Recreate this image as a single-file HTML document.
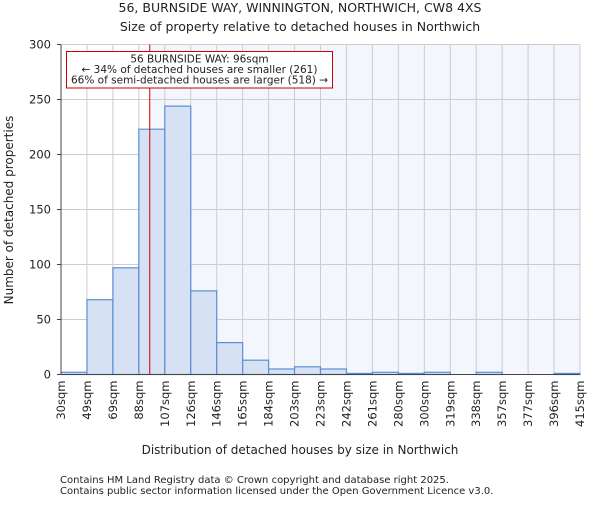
<!DOCTYPE html>
<html><head><meta charset="utf-8"><style>
body{margin:0;background:#fff;font-family:"Liberation Sans","DejaVu Sans",sans-serif;}
svg text{font-family:"DejaVu Sans","Liberation Sans",sans-serif;fill:#222;}
</style></head><body>
<svg id="c" width="600" height="500" xmlns="http://www.w3.org/2000/svg">
<text x="300" y="12" text-anchor="middle" font-size="12.5">56, BURNSIDE WAY, WINNINGTON, NORTHWICH, CW8 4XS</text>
<text x="300" y="31" text-anchor="middle" font-size="12.5">Size of property relative to detached houses in Northwich</text>
<g id="plot"></g>
<text x="300" y="454" text-anchor="middle" font-size="12">Distribution of detached houses by size in Northwich</text>
<text transform="translate(13,210) rotate(-90)" text-anchor="middle" font-size="12">Number of detached properties</text>
<text x="60" y="483" font-size="10" fill="#444">Contains HM Land Registry data © Crown copyright and database right 2025.</text>
<text x="60" y="494" font-size="10" fill="#444">Contains public sector information licensed under the Open Government Licence v3.0.</text>
</svg>
<script>
const binLabels=["30sqm","49sqm","69sqm","88sqm","107sqm","126sqm","146sqm","165sqm","184sqm","203sqm","223sqm","242sqm","261sqm","280sqm","300sqm","319sqm","338sqm","357sqm","377sqm","396sqm","415sqm"];
const counts=[2,68,97,223,244,76,29,13,5,7,5,1,2,1,2,0,2,0,0,1];
const yTicks=[0,50,100,150,200,250,300];
const markerBin=3.42;
const NS="http://www.w3.org/2000/svg";
const L=61,R=580,T=44.5,B=374.5,yMax=300;
const bw=(R-L)/counts.length;
const xs=i=>L+i*bw, ys=v=>B-(v/yMax)*(B-T);
const g=document.getElementById('plot');
function mk(t,a){const e=document.createElementNS(NS,t);for(const k in a)e.setAttribute(k,a[k]);g.appendChild(e);return e;}
const mx=xs(markerBin);
let e=mk('rect',{x:mx,y:T,width:R-mx,height:B-T,fill:'#f3f6fd'});


for(let i=0;i<binLabels.length;i++){
 e=mk('line',{x1:xs(i),x2:xs(i),y1:T,y2:B,stroke:'#cccccc','stroke-width':1});
 
 
 const tx=xs(i)+4;
 e=mk('text',{transform:`translate(${tx},${B+6}) rotate(-90)`,'text-anchor':'end','font-size':11.5});
 e.textContent=binLabels[i];
 
 
}
yTicks.forEach(v=>{
 e=mk('line',{x1:L,x2:R,y1:ys(v),y2:ys(v),stroke:'#cccccc','stroke-width':1});
 
 
 e=mk('line',{x1:L-4,x2:L,y1:ys(v),y2:ys(v),stroke:'#444'});
 
 
 e=mk('text',{x:L-10,y:ys(v)+4,'text-anchor':'end','font-size':11.5});
 e.textContent=v;
 
 
});
counts.forEach((c,i)=>{
 e=mk('rect',{x:xs(i),y:ys(c),width:bw,height:B-ys(c),fill:'#d6e1f3',stroke:'#5b8fd6','stroke-width':1.2});
 
 
});
e=mk('line',{x1:mx,x2:mx,y1:T,y2:B,stroke:'#cc0000','stroke-width':1});


e=mk('rect',{x:66.5,y:51.5,width:266,height:36.5,fill:'#fff',stroke:'#cc0000','stroke-width':1});


const ann=["56 BURNSIDE WAY: 96sqm","← 34% of detached houses are smaller (261)","66% of semi-detached houses are larger (518) →"];
ann.forEach((t,i)=>{
 e=mk('text',{x:199.5,y:62.5+i*10.5,'text-anchor':'middle','font-size':10.5});
 e.textContent=t;
 
 
});
e=mk('line',{x1:L,x2:L,y1:T,y2:B,stroke:'#444'});


e=mk('line',{x1:L,x2:R,y1:B,y2:B,stroke:'#444'});


</script>
</body></html>
